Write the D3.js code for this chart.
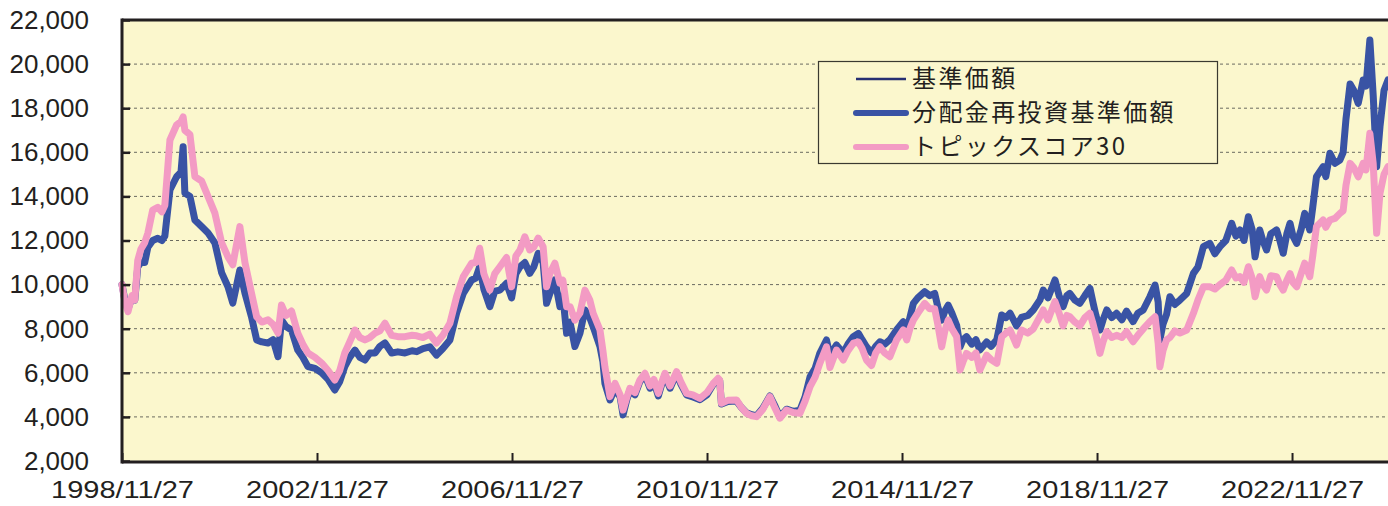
<!DOCTYPE html>
<html><head><meta charset="utf-8">
<script src="https://cdn.jsdelivr.net/npm/d3@7"></script>
<style>html,body{margin:0;padding:0;background:#fff;}svg{display:block;}</style>
</head><body>
<svg id="chart" width="1388" height="506"></svg>
<script>
const dates = ["1998-11-27","1998-12-19","1999-01-11","1999-02-10","1999-03-03","1999-03-25","1999-04-17","1999-05-16","1999-06-09","1999-07-15",
"1999-08-22","1999-09-22","1999-10-14","1999-11-21","2000-01-10","2000-02-12","2000-02-28","2000-03-12","2000-04-19","2000-05-26",
"2000-07-15","2000-09-02","2000-10-23","2000-12-13","2001-01-29","2001-03-06","2001-04-28","2001-06-05","2001-07-24","2001-09-01",
"2001-10-10","2001-11-25","2002-01-02","2002-02-08","2002-03-06","2002-04-08","2002-05-20","2002-07-06","2002-08-13","2002-09-20",
"2002-11-12","2003-01-01","2003-02-18","2003-04-09","2003-05-16","2003-06-23","2003-07-30","2003-09-07","2003-10-14","2003-11-21",
"2003-12-28","2004-02-05","2004-03-12","2004-04-19","2004-06-08","2004-07-25","2004-09-16","2004-11-08","2004-12-13","2005-01-29",
"2005-03-21","2005-05-10","2005-06-27","2005-08-19","2005-10-08","2005-11-27","2006-01-29","2006-03-01","2006-03-30","2006-04-30",
"2006-06-14","2006-07-21","2006-08-28","2006-10-17","2006-11-24","2006-12-26","2007-01-26","2007-03-03","2007-04-09","2007-05-09",
"2007-06-11","2007-07-18","2007-08-13","2007-09-07","2007-10-14","2007-11-21","2007-12-13","2008-01-10","2008-02-05","2008-03-12",
"2008-04-19","2008-05-26","2008-07-02","2008-07-27","2008-09-16","2008-10-08","2008-10-23","2008-11-30","2009-01-07","2009-02-14",
"2009-03-08","2009-04-06","2009-04-28","2009-06-05","2009-07-12","2009-08-19","2009-09-26","2009-10-25","2009-11-27","2009-12-24",
"2010-01-16","2010-02-23","2010-04-13","2010-05-14","2010-06-27","2010-08-13","2010-10-05","2010-11-26","2011-01-13","2011-02-18",
"2011-03-02","2011-03-15","2011-05-02","2011-07-06","2011-08-15","2011-09-20","2011-10-29","2011-12-03","2012-01-20","2012-03-12",
"2012-04-19","2012-05-26","2012-07-15","2012-09-02","2012-10-23","2012-11-30","2013-01-07","2013-02-14","2013-03-21","2013-05-10",
"2013-06-05","2013-07-24","2013-09-13","2013-10-18","2013-11-27","2014-01-04","2014-02-01","2014-03-06","2014-04-13","2014-05-14",
"2014-06-14","2014-07-21","2014-08-28","2014-10-17","2014-12-06","2015-01-01","2015-01-25","2015-02-20","2015-03-25","2015-05-16",
"2015-06-23","2015-07-30","2015-08-22","2015-09-20","2015-10-14","2015-11-08","2015-12-06","2016-01-10","2016-02-05","2016-02-27",
"2016-03-24","2016-05-03","2016-06-03","2016-07-02","2016-08-22","2016-09-24","2016-11-06","2016-12-13","2017-01-14","2017-02-14",
"2017-04-03","2017-05-10","2017-06-27","2017-08-06","2017-09-25","2017-10-20","2017-11-25","2018-01-16","2018-02-16","2018-03-18",
"2018-04-15","2018-05-07","2018-06-14","2018-07-21","2018-08-28","2018-10-05","2018-10-29","2018-11-19","2018-12-19","2019-01-11",
"2019-02-08","2019-03-17","2019-04-22","2019-06-01","2019-07-06","2019-08-24","2019-09-29","2019-11-08","2019-12-28","2020-02-05",
"2020-02-28","2020-03-12","2020-04-04","2020-05-01","2020-05-26","2020-07-02","2020-08-09","2020-09-29","2020-11-18","2020-12-22",
"2021-02-01","2021-03-21","2021-04-28","2021-06-05","2021-07-19","2021-09-01","2021-10-03","2021-11-02","2021-12-02","2022-01-04",
"2022-02-01","2022-02-23","2022-03-30","2022-04-22","2022-05-20","2022-06-21","2022-08-03","2022-08-28","2022-09-22","2022-10-19",
"2022-11-12","2022-12-04","2023-01-01","2023-02-03","2023-03-02","2023-04-09","2023-05-01","2023-05-29","2023-07-18","2023-08-07",
"2023-09-07","2023-10-14","2023-11-21","2023-12-15","2024-01-05","2024-02-05","2024-03-04","2024-04-06","2024-05-13","2024-06-03",
"2024-07-02","2024-07-27","2024-08-22","2024-09-16","2024-10-16","2024-11-15"];

const reinvestNav = [10000,9300,8900,9400,9300,10800,11000,11000,11700,12000,
12100,12000,12200,14290,14890,15100,16250,14150,14000,12930,
12630,12340,11890,10530,9900,9160,10660,9620,8540,7490,
7400,7350,7500,6730,8400,8100,7940,7030,6700,6280,
6200,6000,5700,5220,5600,6280,6700,7030,6700,6580,
6900,6900,7200,7350,6900,6950,6900,7000,6960,7100,
7180,6800,7100,7490,8710,9600,10210,10300,10810,9800,
9000,9700,9750,10060,9400,10500,10810,11000,10510,10800,
11420,11000,9150,9600,10210,9000,9500,7790,8300,7190,
7790,8850,8500,8090,7190,6500,5520,4770,5300,4900,
4090,4800,5200,5000,5600,5900,5300,5600,4950,5500,
5900,5300,5980,5500,5000,4900,4780,5000,5480,5700,
5650,4580,4700,4720,4400,4180,4100,4050,4400,4950,
4500,3990,4350,4250,4300,4900,5820,6200,6880,7490,
6800,7260,6900,7300,7640,7790,7500,7180,6900,7200,
7410,7300,7500,7940,8320,7940,8500,9150,9400,9680,
9500,9600,9000,8390,8800,9070,8700,8160,7180,7500,
7640,7300,7500,7030,7400,7200,7500,8620,8500,8700,
8130,8510,8600,8850,9300,9750,9400,10210,9500,9000,
9500,9600,9300,9150,9500,9830,9150,8600,7940,8400,
8850,8500,8700,8400,8800,8320,8700,8850,9450,9980,
9200,7490,8200,8650,9450,9100,9300,9600,10510,10800,
11720,11870,11400,11720,12000,12780,12200,12480,12000,13080,
12500,11260,12480,12000,11570,12300,12480,12000,11420,12300,
12780,12200,11870,12500,13230,12480,13500,14890,15350,14900,
15960,15500,15650,16000,17500,19100,18800,18220,19280,19000,
21090,18600,15350,17160,18800,19280];

// 基準価額 (no distributions paid: it coincides with the reinvested NAV)
const nav = reinvestNav;

const topix30 = [10000,9200,8770,9500,9300,11100,11600,11900,12340,13380,
13500,13300,13600,16560,17240,17400,17600,17000,16800,14900,
14700,13990,13240,11890,11260,10900,12630,11000,9620,8540,
8300,8400,8200,7800,9075,8600,8800,7800,7300,6900,
6700,6440,6100,5670,6100,6900,7400,7940,7600,7490,
7600,7800,7900,8250,7700,7640,7640,7700,7680,7600,
7750,7350,7700,8250,9450,10360,10970,11000,11650,10500,
9750,10500,10810,11230,9900,11300,11570,12170,11570,11700,
12110,11720,9900,10500,10970,10060,10200,9000,9000,8390,
8710,9750,9300,8700,7940,7000,6270,4920,5520,5000,
4310,4900,5300,5100,5670,5980,5400,5700,5070,5600,
5980,5400,6050,5600,5070,5000,4840,5100,5520,5750,
5670,4620,4750,4770,4400,4160,4050,4010,4350,4920,
4400,3940,4310,4200,4160,4700,5370,5800,6430,7180,
6240,7030,6580,7000,7340,7400,7100,6580,6330,6900,
7180,6900,6730,7490,7940,7490,8000,8390,8700,9150,
8900,8900,8200,7180,7900,8390,8000,7640,6130,6500,
6880,6700,6900,6130,6800,6600,6430,7640,7800,7940,
7260,7940,7800,7990,8540,8850,8400,9230,8700,8130,
8600,8540,8300,8130,8500,8700,8200,7700,6880,7400,
7870,7600,7700,7600,7870,7410,7700,7990,8320,8540,
7340,6270,7000,7490,7600,7900,7800,7940,8700,9300,
9900,9900,9800,10000,10200,10660,10300,10360,10100,10810,
10300,9450,10360,10000,9750,10400,10360,10000,9750,10200,
10500,10100,9900,10500,10970,10360,11300,12630,12930,12600,
12930,13000,13230,13350,14500,15500,15300,14890,15500,15200,
16860,15500,12330,14140,15000,15350];

const yTicks = [2000,4000,6000,8000,10000,12000,14000,16000,18000,20000,22000];
const xTickLabels = ["1998/11/27","2002/11/27","2006/11/27","2010/11/27","2014/11/27","2018/11/27","2022/11/27"];
const seriesNames = ["基準価額","分配金再投資基準価額","トピックスコア30"];
const seriesColors = ["#262f72","#3953a4","#f39bc4"];

const parse = d3.timeParse("%Y-%m-%d");
const parseTick = d3.timeParse("%Y/%m/%d");
const L = 122, R = 1388, T = 20, B = 461;
const svg = d3.select("#chart");

const x = d3.scaleTime().domain([parse("1998-11-27"), parse("2024-11-15")]).range([L, R]);
const y = d3.scaleLinear().domain([2000, 22000]).range([B, T]);

svg.append("rect").attr("x", L).attr("y", T).attr("width", R - L).attr("height", B - T).attr("fill", "#fbf7cd");

// gridlines
svg.append("g").selectAll("line").data(yTicks.filter(v => v > 2000 && v < 22000)).join("line")
  .attr("x1", L).attr("x2", R).attr("y1", d => y(d)).attr("y2", d => y(d))
  .attr("stroke", "#6b6b60").attr("stroke-width", 1).attr("stroke-dasharray", "3,3");

const pts = (vals) => dates.map((d, i) => [parse(d), vals[i]]);
const line = d3.line().x(d => x(d[0])).y(d => y(d[1]));

const plot = svg.append("g");
plot.append("path").datum(pts(nav)).attr("d", line).attr("fill", "none")
  .attr("stroke", seriesColors[0]).attr("stroke-width", 2.5).attr("stroke-linejoin", "round");
plot.append("path").datum(pts(reinvestNav)).attr("d", line).attr("fill", "none")
  .attr("stroke", seriesColors[1]).attr("stroke-width", 7).attr("stroke-linejoin", "round").attr("stroke-linecap", "round");
plot.append("path").datum(pts(topix30)).attr("d", line).attr("fill", "none")
  .attr("stroke", seriesColors[2]).attr("stroke-width", 7).attr("stroke-linejoin", "round").attr("stroke-linecap", "round");

// axes frame
svg.append("line").attr("x1", L).attr("x2", L).attr("y1", T - 1.5).attr("y2", B + 2.5).attr("stroke", "#231f20").attr("stroke-width", 3);
svg.append("line").attr("x1", L).attr("x2", R).attr("y1", T).attr("y2", T).attr("stroke", "#231f20").attr("stroke-width", 3);
svg.append("line").attr("x1", L).attr("x2", R).attr("y1", B + 1).attr("y2", B + 1).attr("stroke", "#231f20").attr("stroke-width", 3);

// y axis
const yAxis = d3.axisLeft(y).tickValues(yTicks).tickSize(-8).tickPadding(33).tickFormat(d3.format(","));
const gy = svg.append("g").attr("transform", `translate(${L},0)`).call(yAxis);
gy.select(".domain").remove();
gy.selectAll(".tick line").attr("stroke", "#231f20").attr("stroke-width", 2.5);
gy.selectAll(".tick text").attr("fill", "#231f20").style("font-family", "'Liberation Sans', Arial, sans-serif").style("font-size", "26px");

// x axis
const xTickDates = xTickLabels.map(s => parseTick(s));
const xAxis = d3.axisBottom(x).tickValues(xTickDates).tickSize(-8).tickPadding(20).tickFormat(d3.timeFormat("%Y/%m/%d"));
const gx = svg.append("g").attr("transform", `translate(0,${B})`).call(xAxis);
gx.select(".domain").remove();
gx.selectAll(".tick line").attr("stroke", "#231f20").attr("stroke-width", 2);
gx.selectAll(".tick text").attr("fill", "#231f20")
  .style("font-family", "'Liberation Sans', Arial, sans-serif").style("font-size", "24px")
  .attr("textLength", 143).attr("lengthAdjust", "spacingAndGlyphs");

// legend
const lg = svg.append("g");
lg.append("rect").attr("x", 818.5).attr("y", 61.5).attr("width", 399).attr("height", 102)
  .attr("fill", "#fbf7cd").attr("stroke", "#3a3a30").attr("stroke-width", 1.2);
const rowsY = [79, 113, 147];
const widths = [2.5, 6, 6];
seriesNames.forEach((name, i) => {
  lg.append("line").attr("x1", 856).attr("x2", 906).attr("y1", rowsY[i]).attr("y2", rowsY[i])
    .attr("stroke", seriesColors[i]).attr("stroke-width", widths[i]).attr("stroke-linecap", i ? "round" : "butt");
  lg.append("text").attr("x", 912).attr("y", rowsY[i]).attr("dy", "0.35em")
    .attr("fill", "#231f20").style("font-family", "'Noto Sans CJK JP', sans-serif").style("font-size", "24px")
    .style("letter-spacing", "2.4px").text(name);
});
</script>
</body></html>
